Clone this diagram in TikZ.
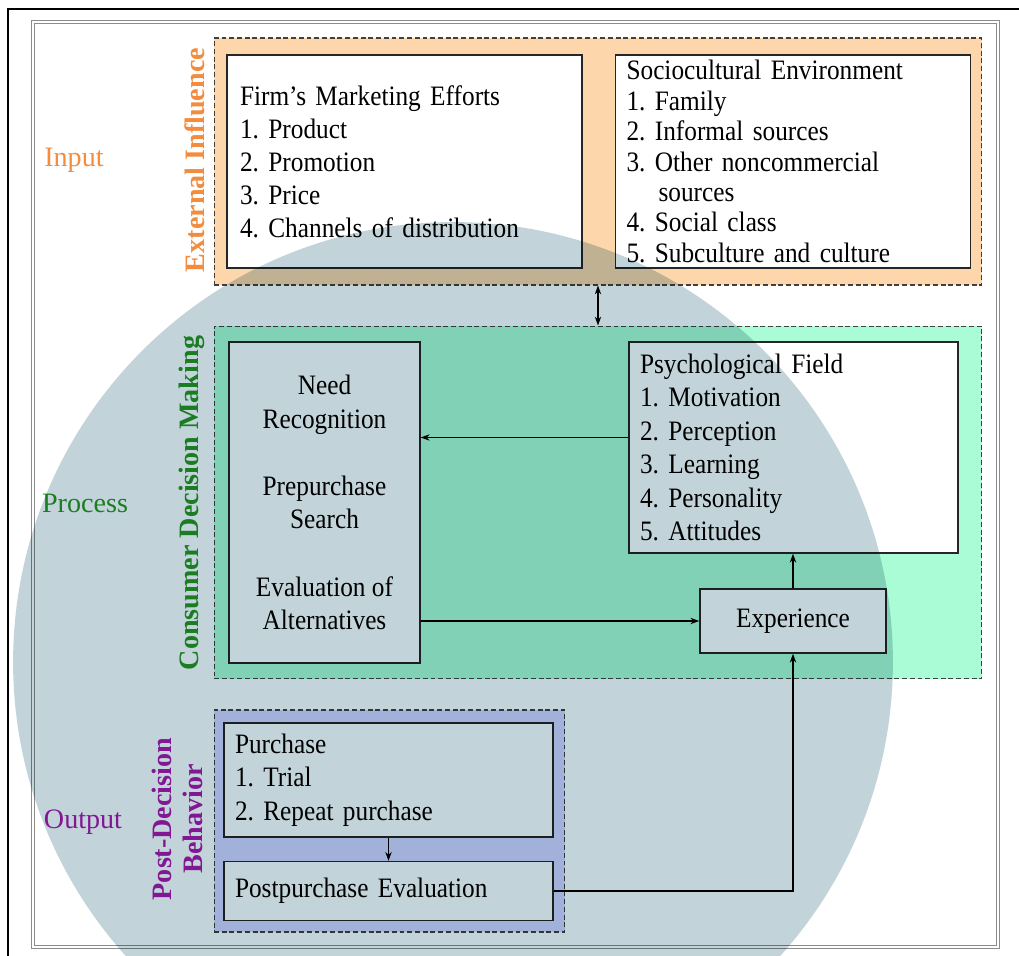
\documentclass[tikz,border=0pt]{standalone}
\usepackage{fontspec}
\setmainfont{Liberation Serif}
\newfontfamily\listfont{Liberation Serif}[FakeStretch=0.9]
\usetikzlibrary{arrows.meta, positioning}
\frenchspacing

\definecolor{peach}{RGB}{253,214,172}
\definecolor{mint}{RGB}{170,252,214}
\definecolor{lavender}{RGB}{214,214,255}
\definecolor{haze}{RGB}{194,212,218}
\definecolor{inorange}{RGB}{242,140,62}
\definecolor{procgreen}{RGB}{36,150,40}
\definecolor{outpurple}{RGB}{172,28,172}

\tikzset{
  panel/.style={draw=black!75, dash pattern=on 2.8pt off 1.6pt, line width=0.6pt},
  box/.style={draw=black!85, fill=white, line width=0.9pt, inner sep=0pt,
    font=\listfont\fontsize{16}{18.8}\selectfont},
  list/.style={align=left, inner xsep=0.22cm, text width=#1},
  side/.style={font=\fontsize{16}{19}\selectfont},
  tag/.style={rotate=90, align=center, font=\bfseries\fontsize{16}{17.6}\selectfont},
}

\begin{document}
\begin{tikzpicture}[x=0.02cm, y=-0.02cm, >={Stealth[length=5pt,width=3.6pt]}]
\useasboundingbox (0,0) rectangle (1019,956);

% the three stages
\node (ext)  [panel, fill=peach, minimum width=15.36cm, minimum height=4.94cm] at (598,161.5) {};
\node (proc) [panel, fill=mint, minimum width=15.36cm, minimum height=7.06cm] at (598,502.5) {};
\node (outp) [panel, fill=lavender, minimum width=7.02cm, minimum height=4.44cm] at (389.5,821) {};

% input
\node (firm)  [box, list=6.58cm, inner xsep=0.26cm, minimum height=4.26cm] at (404.5,161.5)
  {Firm’s Marketing Efforts\\ 1. Product\\ 2. Promotion\\ 3. Price\\ 4. Channels of distribution};
\node (socio) [box, list=6.66cm, minimum height=4.26cm, right=0.64cm of firm,
  font=\listfont\fontsize{16}{17.3}\selectfont]
  {Sociocultural Environment\\ 1. Family\\ 2. Informal sources\\ 3. Other noncommercial\\
   \hspace*{0.64cm}sources\\ 4. Social class\\ 5. Subculture and culture};

% process
\node (stages) [box, minimum width=3.82cm, minimum height=6.42cm, align=center,
  font=\listfont\fontsize{16}{19.1}\selectfont] at (324.5,502.5)
  {Need\\ Recognition\\[19.1pt] Prepurchase\\ Search\\[19.1pt] Evaluation of\\ Alternatives};
\node (psych) [box, list=6.14cm, minimum height=4.22cm,
  font=\listfont\fontsize{16}{19.05}\selectfont] at (793.5,447.5)
  {Psychological Field\\ 1. Motivation\\ 2. Perception\\ 3. Learning\\ 4. Personality\\ 5. Attitudes};
\node (exper) [box, minimum width=3.72cm, minimum height=1.28cm] at (793,621) {Experience};

% output
\node (purchase) [box, list=6.14cm, minimum height=2.28cm,
  font=\listfont\fontsize{16}{19}\selectfont] at (388.5,780)
  {Purchase\\ 1. Trial\\ 2. Repeat purchase};
\node (post) [box, list=6.14cm, minimum height=1.18cm, below=0.46cm of purchase]
  {Postpurchase Evaluation};

\coordinate (gap) at (598,0);
\begin{scope}[line width=0.8pt]
\draw[<->] (ext.south -| gap) -- (proc.north -| gap);
\draw[->] ([yshift=0.2cm]psych.west) -- ([yshift=0.2cm]psych.west -| stages.east);
\draw[->] (exper.west -| stages.east) -- (exper.west);
\draw[->] (exper.north) -- (exper.north |- psych.south);
\draw[->] (purchase) -- (post);
\draw[->] (post) -| (exper);
\end{scope}

% side labels
\node (input)   [side, text=inorange]  at (74,160)  {Input};
\node (process) [side, text=procgreen] at (85,503)  {Process};
\node (output)  [side, text=outpurple] at (83,822)  {Output};
\node (exttag)  [tag, text=inorange]  at (195,160) {External Influence};
\node (proctag) [tag, text=procgreen] at (192,503) {Consumer Decision Making};
\node (outtag)  [tag, text=outpurple] at (177,819) {Post-Decision\\ Behavior};

% frames
\draw[black!45, double=white, double distance=1.6pt, line width=0.5pt] (33,22) rectangle (998,947);
\draw[line width=1.2pt] (1019,9) -- (8,9) -- (8,956);

% tinted disc over the lower half
\begin{scope}[blend mode=multiply]
\clip (0,0) rectangle (1019,956);
\fill[haze] (453,662) circle [radius=8.8cm];
\end{scope}
\end{tikzpicture}
\end{document}
